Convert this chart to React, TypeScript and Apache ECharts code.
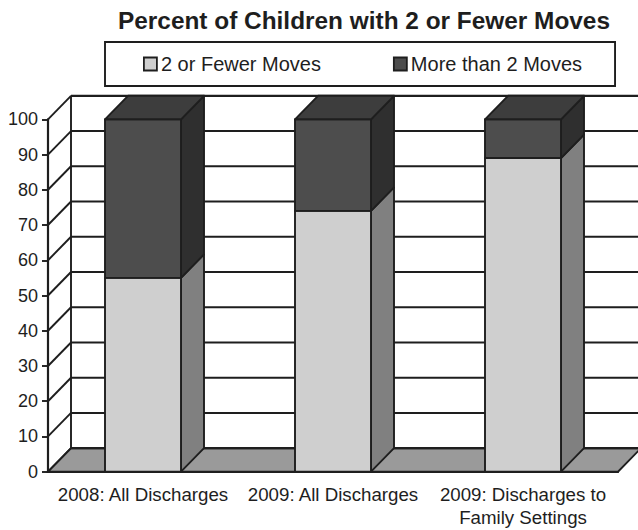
import React, { useEffect, useRef } from "react";
import * as echarts from "echarts";

const categories = ["2008: All Discharges", "2009: All Discharges", "2009: Discharges to\nFamily Settings"];
const fewerMoves = [55, 74, 89];
const moreMoves = [45, 26, 11];
const yTicks = [0, 10, 20, 30, 40, 50, 60, 70, 80, 90, 100];
const titleText = "Percent of Children with 2 or Fewer Moves";
const fewerName = "2 or Fewer Moves";
const moreName = "More than 2 Moves";

const FONT = '"Liberation Sans", Arial, sans-serif';
const INK = "#1e1e1e";
const DEPTH_X = 23;
const DEPTH_Y = 23.5;

function wallItem(params: any, api: any) {
  const cs = params.coordSys;
  const [, y] = api.coord([0, api.value(1)]);
  const left = cs.x;
  const right = cs.x + cs.width;
  const lineStyle = { stroke: INK, lineWidth: 1.9, fill: "none" };
  const kids: any[] = [];
  if (api.value(1) === 0) {
    kids.push({
      type: "polygon",
      shape: { points: [[left, y], [left + DEPTH_X, y - DEPTH_Y], [right + DEPTH_X, y - DEPTH_Y], [right, y]] },
      style: { fill: "#9a9a9a", stroke: INK, lineWidth: 1.9 },
    });
    kids.push({
      type: "line",
      shape: { x1: left + DEPTH_X, y1: y - DEPTH_Y, x2: left + DEPTH_X, y2: cs.y - DEPTH_Y },
      style: lineStyle,
    });
  }
  kids.push({
    type: "line",
    shape: { x1: left, y1: y, x2: left + DEPTH_X, y2: y - DEPTH_Y },
    style: lineStyle,
  });
  kids.push({
    type: "line",
    shape: { x1: left + DEPTH_X, y1: y - DEPTH_Y, x2: right + DEPTH_X, y2: y - DEPTH_Y },
    style: { ...lineStyle, lineWidth: api.value(1) === 0 || api.value(1) === 100 ? 2.3 : 1.9 },
  });
  return { type: "group", children: kids };
}

function boxItem(front: string, side: string, top: string | null) {
  return (_params: any, api: any) => {
    const idx = api.value(0);
    const [cx, yBase] = api.coord([idx, api.value(1)]);
    const [, yTop] = api.coord([idx, api.value(2)]);
    const w = api.size([1, 0])[0] * 0.4;
    const x0 = cx - w / 2;
    const x1 = cx + w / 2;
    const stroke = { stroke: INK, lineWidth: 1.9, lineJoin: "round" };
    const kids: any[] = [
      {
        type: "polygon",
        shape: { points: [[x1, yBase], [x1 + DEPTH_X, yBase - DEPTH_Y], [x1 + DEPTH_X, yTop - DEPTH_Y], [x1, yTop]] },
        style: { fill: side, ...stroke },
      },
      {
        type: "polygon",
        shape: { points: [[x0, yBase], [x1, yBase], [x1, yTop], [x0, yTop]] },
        style: { fill: front, ...stroke },
      },
    ];
    if (top) {
      kids.push({
        type: "polygon",
        shape: { points: [[x0, yTop], [x0 + DEPTH_X, yTop - DEPTH_Y], [x1 + DEPTH_X, yTop - DEPTH_Y], [x1, yTop]] },
        style: { fill: top, ...stroke },
      });
    }
    return { type: "group", children: kids };
  };
}

export default function App() {
  const ref = useRef<HTMLDivElement>(null);
  useEffect(() => {
    const chart = echarts.init(ref.current!, null, { renderer: "svg" });
    chart.setOption({
      animation: false,
      backgroundColor: "#ffffff",
      textStyle: { fontFamily: FONT },
      title: {
        text: titleText,
        left: 364,
        textAlign: "center",
        top: 8,
        padding: 0,
        textStyle: { fontFamily: FONT, fontSize: 24.4, fontWeight: "bold", color: INK },
      },
      legend: {
        left: 105,
        top: 42,
        padding: [12, 33, 12, 38],
        borderColor: INK,
        borderWidth: 1.9,
        itemGap: 72,
        itemWidth: 13,
        itemHeight: 13,
        icon: "rect",
        data: [fewerName, moreName],
        selectedMode: false,
        textStyle: { fontFamily: FONT, fontSize: 20, color: INK, padding: [0, 0, 0, -1] },
        itemStyle: { borderColor: INK, borderWidth: 1.8 },
      },
      grid: { left: 48, right: 20, top: 119.3, height: 352.4, containLabel: false },
      xAxis: {
        type: "category",
        data: categories,
        z: 10,
        axisLine: { lineStyle: { color: INK, width: 2.2 } },
        axisTick: { length: 6, lineStyle: { color: INK, width: 1.9 } },
        axisLabel: {
          interval: 0,
          margin: 11,
          color: INK,
          fontFamily: FONT,
          fontSize: 18.7,
          lineHeight: 23,
        },
      },
      yAxis: {
        type: "value",
        min: 0,
        max: 100,
        interval: 10,
        z: 10,
        splitLine: { show: false },
        axisLine: { show: true, lineStyle: { color: INK, width: 2.2 } },
        axisTick: { show: true, length: 6, lineStyle: { color: INK, width: 1.9 } },
        axisLabel: { margin: 10, color: INK, fontFamily: FONT, fontSize: 18, padding: [3, 0, 0, 0] },
      },
      series: [
        {
          type: "custom",
          name: "walls",
          silent: true,
          clip: false,
          z: 1,
          data: yTicks.map((t) => [0, t]),
          encode: { x: 0, y: 1 },
          renderItem: wallItem,
        },
        {
          type: "custom",
          name: fewerName,
          silent: true,
          clip: false,
          z: 2,
          itemStyle: { color: "#cfcfcf" },
          data: fewerMoves.map((v, i) => [i, 0, v]),
          encode: { x: 0, y: 2 },
          renderItem: boxItem("#cfcfcf", "#808080", null),
        },
        {
          type: "custom",
          name: moreName,
          silent: true,
          clip: false,
          z: 3,
          itemStyle: { color: "#4d4d4d" },
          data: moreMoves.map((v, i) => [i, fewerMoves[i], fewerMoves[i] + v]),
          encode: { x: 0, y: 2 },
          renderItem: boxItem("#4d4d4d", "#2f2f2f", "#3d3d3d"),
        },
      ],
    });
    return () => chart.dispose();
  }, []);
  return <div ref={ref} style={{ position: "absolute", left: 0, top: 0, width: 638, height: 530 }} />;
}
